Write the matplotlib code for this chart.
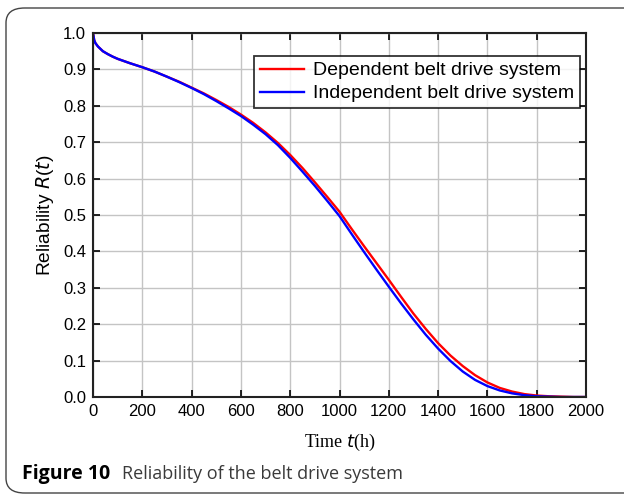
import matplotlib
matplotlib.use("Agg")
import matplotlib.pyplot as plt
from matplotlib.patches import FancyBboxPatch

# Operating time (h)
t_hours = [0, 5, 10, 20, 40, 60, 80, 100, 150, 200, 250, 300, 350, 400, 450,
           500, 550, 600, 650, 700, 750, 800, 850, 900, 950, 1000, 1050, 1100,
           1150, 1200, 1250, 1300, 1350, 1400, 1450, 1500, 1550, 1600, 1650,
           1700, 1750, 1800, 1850, 1900, 1950, 2000]

# Reliability of the dependent belt drive system
r_dependent = [1.000, 0.980, 0.972, 0.963, 0.950, 0.942, 0.935, 0.929, 0.917,
               0.906, 0.894, 0.880, 0.866, 0.850, 0.834, 0.816, 0.797, 0.776,
               0.753, 0.727, 0.698, 0.665, 0.629, 0.590, 0.550, 0.509, 0.461,
               0.414, 0.368, 0.322, 0.275, 0.229, 0.187, 0.148, 0.114, 0.085,
               0.060, 0.040, 0.025, 0.015, 0.008, 0.004, 0.002, 0.001, 0.000,
               0.000]

# Reliability of the independent belt drive system
r_independent = [1.000, 0.980, 0.972, 0.963, 0.950, 0.942, 0.935, 0.929,
                 0.917, 0.906, 0.894, 0.880, 0.865, 0.849, 0.832, 0.813, 0.793,
                 0.772, 0.748, 0.722, 0.692, 0.657, 0.619, 0.580, 0.539, 0.497,
                 0.447, 0.398, 0.350, 0.303, 0.257, 0.213, 0.171, 0.133, 0.099,
                 0.070, 0.047, 0.030, 0.018, 0.010, 0.005, 0.002, 0.001, 0.000,
                 0.000, 0.000]

x_ticks = [0, 200, 400, 600, 800, 1000, 1200, 1400, 1600, 1800, 2000]
y_ticks = [0.0, 0.1, 0.2, 0.3, 0.4, 0.5, 0.6, 0.7, 0.8, 0.9, 1.0]

plt.rcParams['font.family'] = ['Liberation Sans', 'DejaVu Sans']

fig = plt.figure(figsize=(6.24, 4.95), dpi=100)
ax = fig.add_axes([93 / 624, 1 - 397 / 495, (586 - 93) / 624, (397 - 33) / 495])

ax.plot(t_hours, r_dependent, color='#ff0000', lw=1.7, label='Dependent belt drive system')
ax.plot(t_hours, r_independent, color='#0000ff', lw=1.7, label='Independent belt drive system')

ax.set_xlim(0, 2000)
ax.set_ylim(0, 1.0)
ax.set_xticks(x_ticks)
ax.set_yticks(y_ticks)
ax.set_yticklabels([f"{v:.1f}" for v in y_ticks])
ax.grid(True, color='#c4c4c4', lw=1.0)
ax.set_axisbelow(True)
ax.tick_params(direction='in', length=5, width=1.2, top=True, right=True,
               labelsize=12, colors='black', pad=5)
for sp in ax.spines.values():
    sp.set_linewidth(1.5)
    sp.set_color('#222222')

ax.set_ylabel('Reliability $\\it{R}$($\\it{t}$)', fontsize=13.8, labelpad=5)
ax.set_xlabel('Time $\\it{t}$(h)', fontsize=13, family=['Liberation Serif'], labelpad=9)

leg = ax.legend(loc='upper right', bbox_to_anchor=(0.988, 0.937), fontsize=14,
                frameon=True, fancybox=False, edgecolor='black', handlelength=2.3,
                borderpad=0.3, labelspacing=0.28, handletextpad=0.45,
                borderaxespad=0)
leg.get_frame().set_linewidth(1.3)

# rounded panel border
fig.patches.append(FancyBboxPatch((6 / 624, 2 / 495), 640 / 624, 485 / 495,
                                  boxstyle='round,pad=0,rounding_size=0.03',
                                  transform=fig.transFigure, fill=False,
                                  edgecolor='#444444', lw=1.0))

fig.text(22 / 624, 1 - 474 / 495, 'Figure 10', fontsize=14, fontweight='bold',
         family=['Open Sans'], va='center', ha='left')
fig.text(122 / 624, 1 - 474 / 495, 'Reliability of the belt drive system',
         fontsize=13, family=['Open Sans'], va='center', ha='left', color='#3a3a3a')

fig.savefig('out.png', dpi=100)
